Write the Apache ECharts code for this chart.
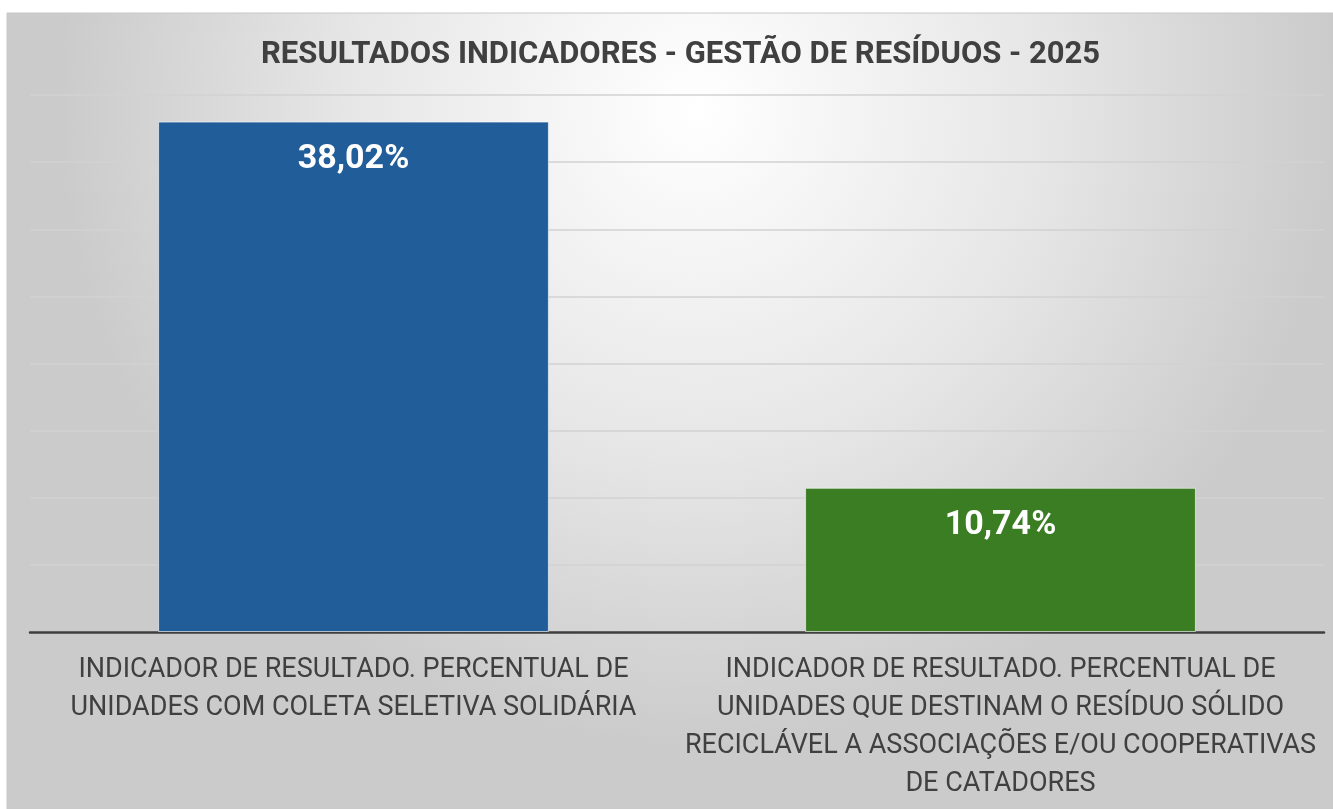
<!DOCTYPE html>
<html>
<head>
<meta charset="utf-8">
<script src="https://cdn.jsdelivr.net/npm/echarts@6/dist/echarts.min.js"></script>
<style>
  html, body { margin: 0; padding: 0; background: #ffffff; }
  #chart { width: 1333px; height: 809px; }
</style>
</head>
<body>
<div id="chart"></div>
<script>
const titleText = 'RESULTADOS INDICADORES - GESTÃO DE RESÍDUOS - 2025'
const categories = [
  'INDICADOR DE RESULTADO. PERCENTUAL DE\nUNIDADES COM COLETA SELETIVA SOLIDÁRIA',
  'INDICADOR DE RESULTADO. PERCENTUAL DE\nUNIDADES QUE DESTINAM O RESÍDUO SÓLIDO\nRECICLÁVEL A ASSOCIAÇÕES E/OU COOPERATIVAS\nDE CATADORES',
]
const values = [38.02, 10.74]
const barColors = ['#215e99', '#3a7d22']

let myChart = echarts.init(document.getElementById('chart'))
let option = {
  animation: false,
  backgroundColor: '#ffffff',
  title: {
    text: titleText,
    left: 256,
    top: 35,
    textStyle: {
      fontFamily: 'Roboto, sans-serif',
      fontSize: 31,
      fontWeight: 'bold',
      color: '#404040',
    },
  },
  graphic: [
    {
      type: 'rect',
      z: -10,
      silent: true,
      shape: { x: 7, y: 13, width: 1326, height: 796 },
      style: {
        fill: {
          type: 'radial',
          x: 0.52,
          y: 0.12,
          r: 0.8,
          colorStops: [
            { offset: 0, color: '#ffffff' },
            { offset: 0.55, color: '#e6e6e6' },
            { offset: 1, color: '#cbcbcb' },
          ],
        },
        stroke: '#c8c8c8',
        lineWidth: 1,
      },
    },
  ],
  grid: {
    left: 30,
    right: 9,
    top: 95,
    bottom: 177,
  },
  xAxis: {
    type: 'category',
    data: categories,
    axisTick: { show: false },
    axisLine: {
      lineStyle: { color: '#3f3f3f', width: 2.5 },
    },
    axisLabel: {
      interval: 0,
      margin: 19,
      color: '#404040',
      fontFamily: 'Roboto, sans-serif',
      fontSize: 27,
      lineHeight: 38,
      align: 'center',
    },
  },
  yAxis: {
    type: 'value',
    min: 0,
    max: 40,
    interval: 5,
    axisLabel: { show: false },
    axisLine: { show: false },
    axisTick: { show: false },
    splitLine: {
      lineStyle: { color: '#d2d2d2', width: 1.5 },
    },
  },
  series: [
    {
      type: 'bar',
      barWidth: '60.4%',
      data: values.map((v, i) => ({
        value: v,
        itemStyle: {
          color: barColors[i],
          borderColor: 'rgba(255,255,255,0.6)',
          borderWidth: 1,
        },
      })),
      label: {
        show: true,
        position: 'insideTop',
        distance: 21,
        color: '#ffffff',
        fontFamily: 'Roboto, sans-serif',
        fontWeight: 'bold',
        fontSize: 34,
        formatter: (p) => p.value.toFixed(2).replace('.', ',') + '%',
      },
    },
  ],
}
myChart.setOption(option)
window.addEventListener('resize', () => {
  myChart.resize()
})
</script>
</body>
</html>
